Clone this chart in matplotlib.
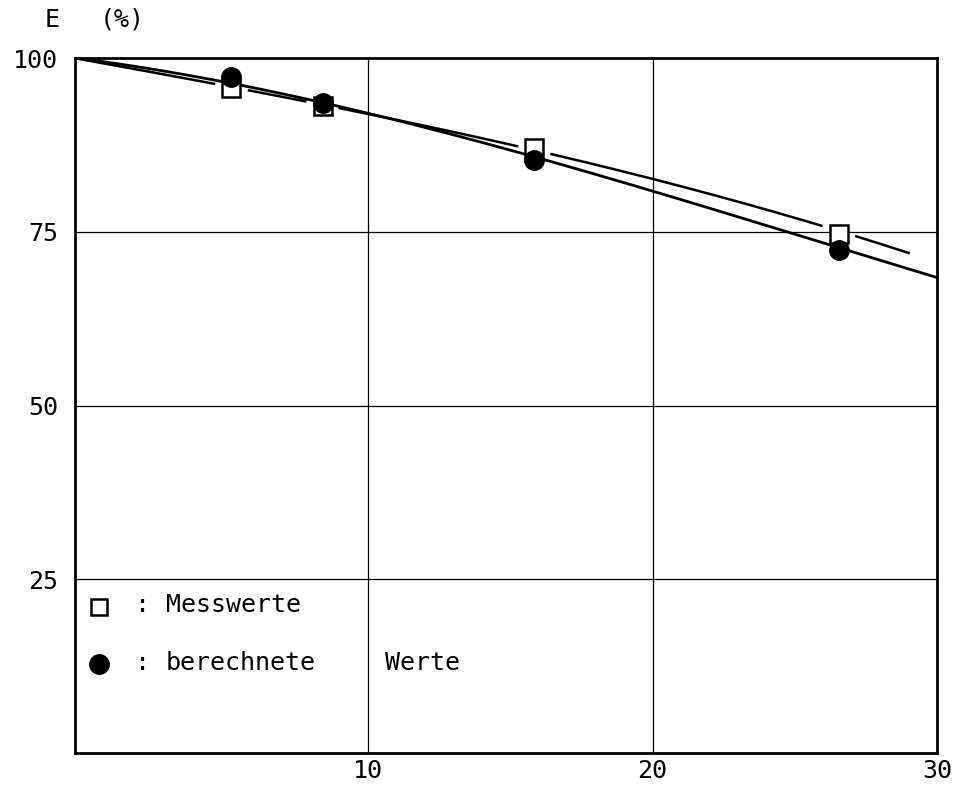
import numpy as np
import matplotlib
matplotlib.use("Agg")
import matplotlib.pyplot as plt

# Data
mess_x = [5.2, 8.4, 15.85, 26.55]
mess_y = [95.7, 93.1, 87.1, 74.7]
ber_x = [5.2, 8.4, 15.85, 26.55]
ber_y = [97.3, 93.5, 85.3, 72.4]

# curve through measured values (long dashed line)
fit_mess_x = [-0.3, 2.0, 4.5, 8.4, 10.4, 13.9, 16.0, 19.2, 23.8, 26.5, 29.0]
fit_mess_y = [100.0, 98.2, 96.4, 93.2, 91.7, 88.5, 86.6, 83.5, 78.4, 75.1, 72.0]
# curve through calculated values (solid line)
fit_ber_x = [-0.3, 2.0, 4.5, 8.4, 10.4, 13.9, 16.0, 19.2, 23.8, 26.5, 30.0]
fit_ber_y = [100.0, 98.6, 97.0, 93.6, 91.8, 87.9, 85.4, 81.75, 76.3, 72.9, 68.3]

xticks = [10, 20, 30]
yticks = [25, 50, 75, 100]

W, H = 954, 791
fig = plt.figure(figsize=(W / 100, H / 100), dpi=100)
ax = fig.add_axes([75 / W, (H - 753) / H, (937 - 75) / W, (753 - 58) / H])
ax.set_xlim(-0.3, 30)
ax.set_ylim(0, 100)

font = dict(family=["DejaVu Sans Mono"], fontsize=18, color="black")


def smooth(xs, ys, x0, x1, n=1500):
    c = np.polyfit(xs, ys, 3)
    xx = np.linspace(x0, x1, n)
    return xx, np.polyval(c, xx)


# grid lines
for gx in [10, 20]:
    ax.axvline(gx, color="black", lw=0.9, zorder=1)
for gy in [25, 50, 75]:
    ax.axhline(gy, color="black", lw=0.9, zorder=1)

# solid curve
xs, ys = smooth(fit_ber_x, fit_ber_y, fit_ber_x[0], fit_ber_x[-1])
ax.plot(xs, ys, color="black", lw=2.0, zorder=2)

# dashed curve, broken around the measured markers
xd, yd = smooth(fit_mess_x, fit_mess_y, fit_mess_x[0], fit_mess_x[-1])
mask = np.zeros_like(xd, dtype=bool)
for mx in mess_x:
    mask |= np.abs(xd - mx) < 0.6
yd = np.where(mask, np.nan, yd)
ax.plot(xd, yd, color="black", lw=1.8, zorder=2)

# markers
ax.plot(mess_x, mess_y, linestyle="none", marker="s", markersize=13,
        markerfacecolor="white", markeredgecolor="black", markeredgewidth=1.8, zorder=3)
ax.plot(ber_x, ber_y, linestyle="none", marker="o", markersize=14,
        markerfacecolor="black", markeredgecolor="black", zorder=4)

# frame
for s in ax.spines.values():
    s.set_linewidth(2.0)

ax.set_xticks(xticks)
ax.set_yticks(yticks)
ax.tick_params(axis="y", length=0, pad=12)
ax.tick_params(axis="x", length=0, pad=4)
ax.set_xticklabels([str(t) for t in xticks], fontdict=font)
ax.set_yticklabels([str(t) for t in yticks], fontdict=font)

# axis title
fig.text(45 / W, 1 - 20 / H, "E", ha="left", va="center", **font)
fig.text(100 / W, 1 - 20 / H, "(%)", ha="left", va="center", **font)

# legend
ax.plot([0.55], [21.0], linestyle="none", marker="s", markersize=12,
        markerfacecolor="white", markeredgecolor="black", markeredgewidth=1.8, clip_on=False)
ax.plot([0.55], [12.8], linestyle="none", marker="o", markersize=14,
        markerfacecolor="black", markeredgecolor="black", clip_on=False)
ax.text(1.8, 21.3, ":", ha="left", va="center", **font)
ax.text(2.9, 21.3, "Messwerte", ha="left", va="center", **font)
ax.text(1.8, 13.0, ":", ha="left", va="center", **font)
ax.text(2.9, 13.0, "berechnete", ha="left", va="center", **font)
ax.text(10.6, 13.0, "Werte", ha="left", va="center", **font)

fig.savefig("out.png", dpi=100)
